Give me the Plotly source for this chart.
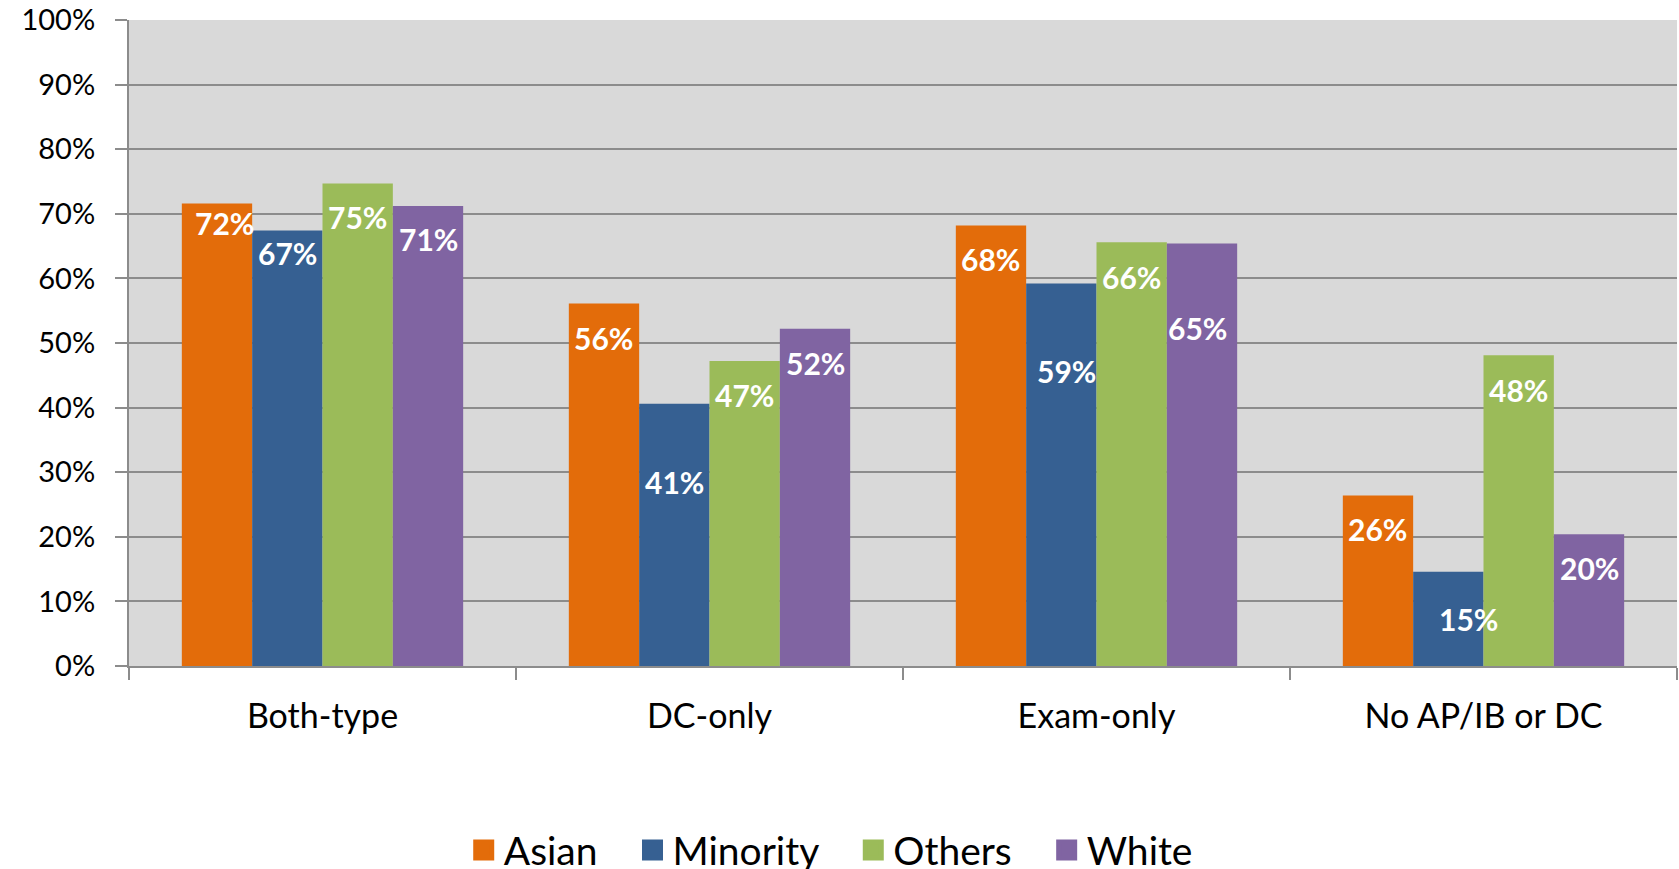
import plotly.graph_objects as go

categories = ["Both-type", "DC-only", "Exam-only", "No AP/IB or DC"]
series_names = ["Asian", "Minority", "Others", "White"]
asian = [71.6, 56.1, 68.2, 26.4]
minority = [67.4, 40.6, 59.2, 14.6]
others = [74.7, 47.2, 65.6, 48.1]
white = [71.2, 52.2, 65.4, 20.4]
label_asian = ["72%", "56%", "68%", "26%"]
label_minority = ["67%", "41%", "59%", "15%"]
label_others = ["75%", "47%", "66%", "48%"]
label_white = ["71%", "52%", "65%", "20%"]
y_ticks = [0, 10, 20, 30, 40, 50, 60, 70, 80, 90, 100]
y_tick_text = ["0%", "10%", "20%", "30%", "40%", "50%", "60%", "70%", "80%", "90%", "100%"]

colors = ["#E36C0A", "#366092", "#9BBB59", "#8064A2"]
values = [asian, minority, others, white]
labels = [label_asian, label_minority, label_others, label_white]

# label placement style (pixels below bar top, horizontal nudge)
label_drop = [[22, 36, 36, 36], [24, 80, 89, 49], [36, 36, 37, 37], [35, 36, 86, 36]]
label_nudge = [[8, 0, 0, 0], [0, 0, 5, 20], [0, 0, 0, 0], [0, 0, -5, 0]]

FONT = "Lato, 'Open Sans', sans-serif"
BARGAP = 0.273
PAD = "\u00a0\u00a0\u00a0"

fig = go.Figure()
for name, vals, col in zip(series_names, values, colors):
    fig.add_trace(go.Bar(x=categories, y=vals, name=name, marker=dict(color=col, line=dict(width=0)),
                         showlegend=False))
    fig.add_trace(go.Scatter(x=[categories[0]], y=[None], mode="markers", name=name + PAD,
                             marker=dict(symbol="square", size=16, color=col,
                                         line=dict(width=5, color=col)),
                             showlegend=True))

w = (1 - BARGAP) / 4
annotations = []
for i, (vals, labs) in enumerate(zip(values, labels)):
    for k, (v, t) in enumerate(zip(vals, labs)):
        annotations.append(dict(
            x=k + (i - 1.5) * w, y=v, xref="x", yref="y", text=t, showarrow=False,
            xanchor="center", yanchor="middle", yshift=-label_drop[i][k] + 2, xshift=label_nudge[i][k],
            font=dict(family=FONT, size=30, color="white", weight="bold")))

fig.update_layout(
    width=1679, height=869,
    margin=dict(l=129, r=2, t=20, b=203, autoexpand=False),
    paper_bgcolor="white", plot_bgcolor="#D9D9D9",
    barmode="group", bargap=BARGAP, bargroupgap=0,
    font=dict(family=FONT, size=33, color="black"),
    annotations=annotations,
    legend=dict(orientation="h", x=0.463, xanchor="center", y=-0.285, yanchor="middle",
                font=dict(family=FONT, size=39, color="black"), itemsizing="trace",
                itemwidth=30, traceorder="normal"),
)
fig.update_xaxes(type="category", tickson="boundaries", ticks="outside", ticklen=12, tickwidth=2,
                 tickcolor="#8C8C8C", showline=True, linecolor="#8C8C8C", linewidth=2,
                 showgrid=False, range=[-0.5, 3.5], ticklabelstandoff=19,
                 tickfont=dict(family=FONT, size=34))
fig.update_yaxes(range=[0, 100], tickmode="array", tickvals=y_ticks, ticktext=y_tick_text,
                 ticks="outside", ticklen=12, ticklabeloverflow="allow",
                 tickwidth=2, tickcolor="#8C8C8C", showline=True, linecolor="#8C8C8C", linewidth=2,
                 showgrid=True, gridcolor="#8C8C8C", gridwidth=2, zeroline=False,
                 ticklabelstandoff=14, tickfont=dict(family=FONT, size=29))

fig.write_html("out.html", config={"displayModeBar": False},
               post_script="document.body.style.margin='0';document.body.style.overflow='hidden';")
